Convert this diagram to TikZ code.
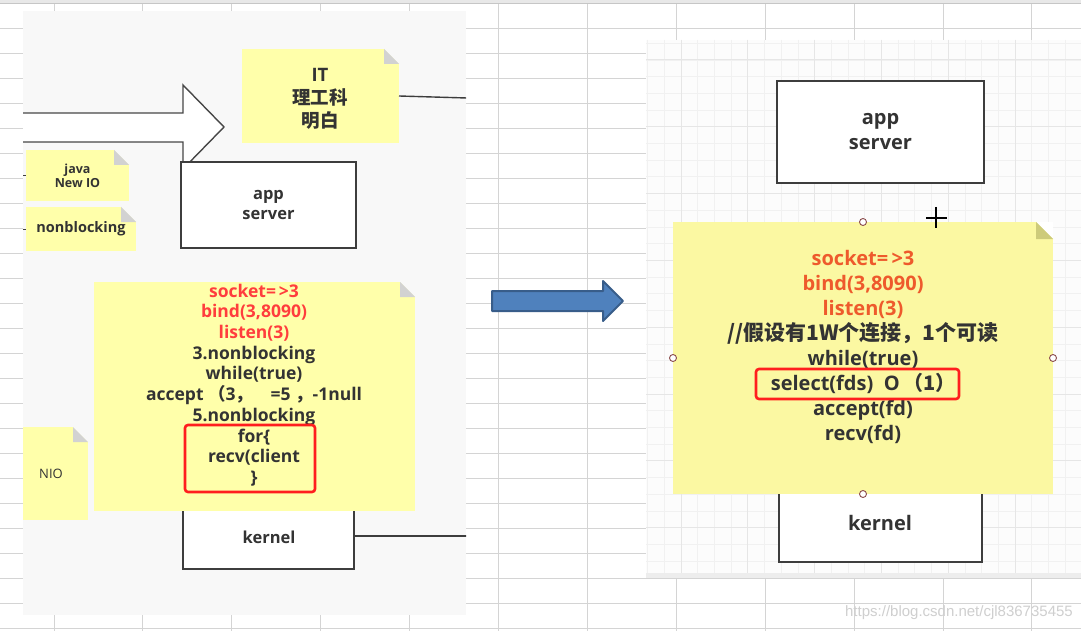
\documentclass[tikz,border=0pt]{standalone}
\usepackage{fontspec}
\setmainfont{Open Sans}
\newfontfamily\cjk{Noto Sans CJK SC}
\newfontfamily\wmfont{Liberation Sans}
\definecolor{ink}{HTML}{333333}
\definecolor{gridc}{HTML}{D4D4D4}
\definecolor{leftbg}{HTML}{F8F8F8}
\definecolor{noteY}{HTML}{FFFFAA}
\definecolor{noteYb}{HTML}{FBF8A2}
\definecolor{foldG}{HTML}{D2D2D2}
\definecolor{foldO}{HTML}{CDCB7A}
\definecolor{redtxt}{HTML}{FF3D3D}
\definecolor{redtxtb}{HTML}{EE5A2C}
\definecolor{redbox}{HTML}{FF1E1E}
\definecolor{arrowfill}{HTML}{4F81BD}
\definecolor{arrowline}{HTML}{385D8A}
\definecolor{handlec}{HTML}{8A4B4B}
\definecolor{fine}{HTML}{F1F1F1}
\definecolor{finemaj}{HTML}{E6E6E6}
\newcommand\pbox[7]{\node[#1,minimum width={#5-#3},minimum height={#6-#4}] (#2) at ({(#3+#5)/2},{(#4+#6)/2}) {#7};}
\begin{document}
\begin{tikzpicture}[x=1pt,y=-1pt,
  note/.style n args={4}{draw=none,fill=#1,inner sep=0pt,outer sep=0pt,
    path picture={
      \fill[#4] (path picture bounding box.north east) -- ++(-#3pt,0pt) -- ++(#3pt,-#3pt) -- cycle;
      \fill[#2] (path picture bounding box.north east) ++(-#3pt,0pt) -- ++(0pt,-#3pt) -- ++(#3pt,0pt) -- cycle;}},
  box/.style={draw=ink!95,line width=1.7pt,fill=white,inner sep=0pt,outer sep=0pt,text=ink,align=center},
  redframe/.style={draw=redbox,line width=2.6pt,rounded corners=3pt,inner sep=0pt},
  conn/.style={draw=ink!95,line width=1.4pt},
  txt/.style={text=ink,align=center,inner sep=0pt},
  handle/.style={circle,draw=handlec,fill=white,line width=0.9pt,minimum size=7pt,inner sep=0pt}]
\useasboundingbox (0,0) rectangle (1081,631);
\fill[white] (0,0) rectangle (1081,631);
% spreadsheet grid
\foreach \y in {28,53,...,628} \draw[gridc,line width=0.9pt] (0,\y) -- (1081,\y);
\foreach \i in {0,...,11} \draw[gridc,line width=0.9pt] ({54+88.9*\i},0) -- ({54+88.9*\i},631);
\fill[gray!18] (0,0) rectangle (1081,3);
\draw[gray!45] (0,3) -- (1081,3);

% ================= left picture =================
\fill[leftbg] (23,11) rectangle (466,615);
\begin{scope}
\clip (23,11) rectangle (466,615);
\filldraw[fill=white,draw=ink!90,line width=1.4pt] (20,113) -- (183,113) -- (183,85) -- (224,127) -- (183,169) -- (183,142) -- (20,142);
\pbox{note={noteY}{foldG}{15}{leftbg}}{itnote}{242}{49}{399}{143}{}
\node[txt,font=\bfseries\fontsize{18.5}{23}\selectfont] (ittxt) at (320,99) {IT\\{\cjk\bfseries 理工科}\\{\cjk\bfseries 明白}};
\coordinate (itend) at (467,98);
\draw[conn] (itnote.east) -- (itend);
\pbox{box,font=\bfseries\fontsize{16.5}{20}\selectfont}{appL}{181}{162}{356}{248}{app\\server}
\pbox{note={noteY}{foldG}{15}{leftbg},text=ink,align=center,font=\bfseries\fontsize{12.5}{14}\selectfont}{javaN}{26}{150}{129}{201}{java\\New IO}
\pbox{note={noteY}{foldG}{15}{leftbg},text=ink,font=\bfseries\fontsize{14.5}{16}\selectfont}{nbN}{26}{207}{136}{251}{nonblocking}
\draw[conn,line width=1pt] (javaN.west) -- ++(-4pt,0pt);
\draw[conn,line width=1pt] (nbN.west) -- ++(-4pt,0pt);
\pbox{box}{kerL}{183}{480}{354}{569}{}
\node[txt,font=\bfseries\fontsize{16.5}{20}\selectfont] (kerLt) at (269,537) {kernel};
\coordinate (kerend) at (467,536);
\draw[conn] (kerL.east |- kerend) -- (kerend);
\pbox{note={noteY}{foldG}{15}{leftbg}}{bigL}{94}{282}{415}{511}{}
\node[txt,font=\bfseries\fontsize{17.5}{20.7}\selectfont] (bigLt) at (254,385)
 {{\color{redtxt}socket=\,>3}\\{\color{redtxt}bind(3,8090)}\\{\color{redtxt}listen(3)}\\3.nonblocking\\while(true)\\accept\ {\cjk\bfseries （}3{\cjk\bfseries ，}\quad=5\ {\cjk\bfseries ，}-1null\\5.nonblocking\\for\{\\recv(client\\\}};
\pbox{redframe}{rfL}{185}{425}{315}{492}{}
\pbox{note={noteY}{foldG}{15}{leftbg}}{nioN}{23}{427}{88}{520}{}
\node[txt,font=\fontsize{13}{14}\selectfont] (niot) at (51,474) {NIO};
\end{scope}

% ================= middle arrow =================
\filldraw[fill=arrowfill,draw=arrowline,line width=2pt,line join=round] (492,291) -- (603,291) -- (603,281) -- (623,301) -- (603,321) -- (603,311) -- (492,311) -- cycle;

% ================= right picture =================
\fill[white!99!black] (646,40) rectangle (1081,573);
\begin{scope}
\clip (646,40) rectangle (1081,573);
\foreach \i in {0,...,26} \draw[fine,line width=0.8pt] ({647.6+16.7*\i},40) -- ({647.6+16.7*\i},573);
\foreach \i in {0,...,32} \draw[fine,line width=0.8pt] (646,{43.3+16.7*\i}) -- (1081,{43.3+16.7*\i});
\foreach \i in {0,...,6} \draw[finemaj,line width=1pt] ({681+66.8*\i},40) -- ({681+66.8*\i},573);
\foreach \i in {0,...,7} \draw[finemaj,line width=1pt] (646,{60+66.8*\i}) -- (1081,{60+66.8*\i});
\pbox{box,font=\bfseries\fontsize{20}{25}\selectfont}{appR}{777}{81}{984}{183}{app\\server}
\pbox{box}{kerR}{779}{470}{982}{562}{}
\node[txt,font=\bfseries\fontsize{20}{25}\selectfont] (kerRt) at (880,523) {kernel};
\pbox{note={noteYb}{foldO}{17}{white}}{bigR}{673}{222}{1053}{494}{}
\node[txt,font=\bfseries\fontsize{20}{25}\selectfont] (bigRt) at (863,346.5)
 {{\color{redtxtb}socket=\,>3}\\{\color{redtxtb}bind(3,8090)}\\{\color{redtxtb}listen(3)}\\{\cjk\bfseries\fontsize{21}{25}\selectfont //假设有1W个连接，1个可读}\\while(true)\\select(fds)\ \ O\,{\cjk\bfseries （1）}\\accept(fd)\\recv(fd)};
\pbox{redframe}{rfR}{756}{369}{959}{399}{}
\node[handle] (h1) at (bigR.north) {};
\node[handle] (h2) at (bigR.west) {};
\node[handle] (h3) at (bigR.east) {};
\node[handle] (h4) at (bigR.south) {};
\draw[black,line width=1.3pt] (926,218) -- (947,218) (936,207) -- (936,228);
\end{scope}
\fill[gray!14] (646,573) rectangle (1081,578);
\node[font=\wmfont\fontsize{15}{15}\selectfont,text=gray!38,anchor=east,inner sep=0pt] (wm) at (1073,613) {https://blog.csdn.net/cjl836735455};
\end{tikzpicture}
\end{document}
